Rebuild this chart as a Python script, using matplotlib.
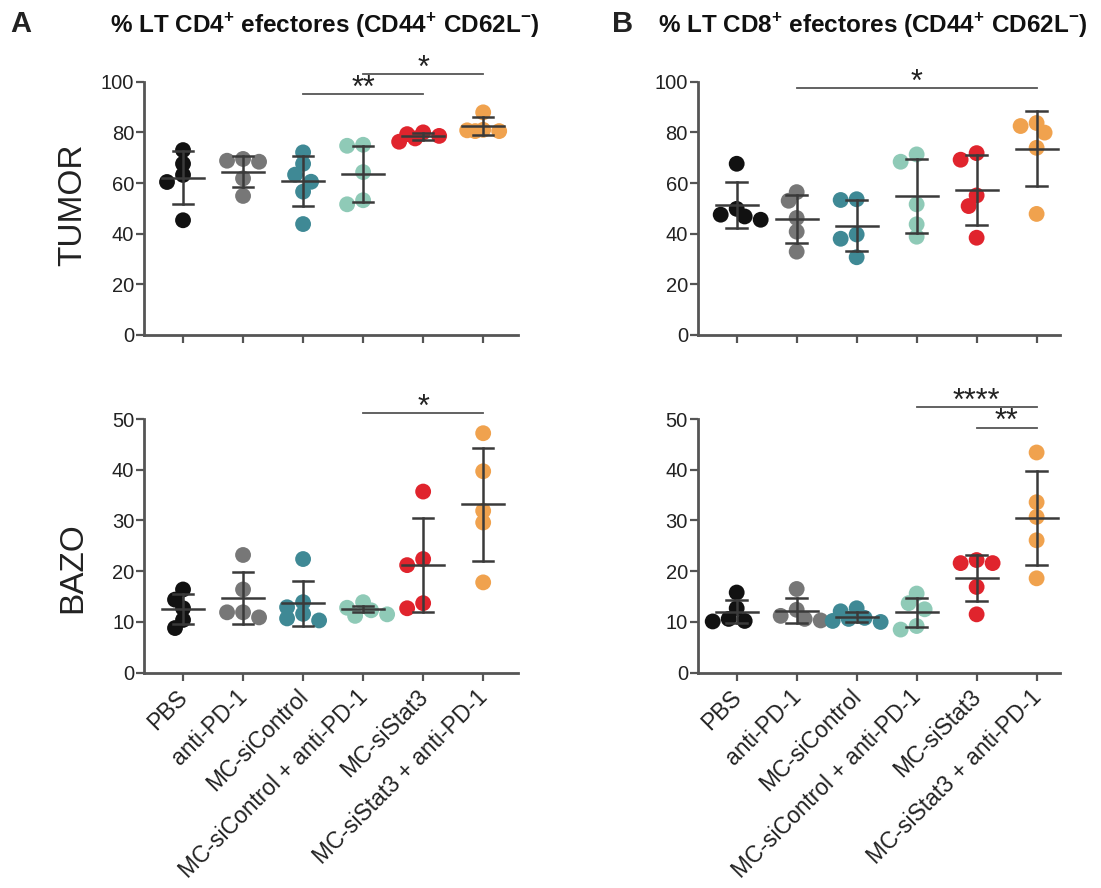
import numpy as np
import matplotlib
matplotlib.use('Agg')
import matplotlib.pyplot as plt
from matplotlib.transforms import ScaledTranslation

plt.rcParams['font.family'] = ['Liberation Sans', 'DejaVu Sans']
plt.rcParams['mathtext.fontset'] = 'custom'
plt.rcParams['mathtext.rm'] = 'Liberation Sans'
plt.rcParams['mathtext.bf'] = 'Liberation Sans:bold'

groups = ['PBS', 'anti-PD-1', 'MC-siControl', 'MC-siControl + anti-PD-1',
          'MC-siStat3', 'MC-siStat3 + anti-PD-1']
colors = ['#111111', '#777777', '#3f8995', '#8fcab7', '#e0242d', '#f0a24e']

# CD4 tumor
cd4_tumor = [[73.0, 67.6, 63.2, 60.4, 45.3],
             [69.5, 68.8, 68.4, 61.8, 54.9],
             [72.1, 67.6, 63.3, 60.5, 56.6, 43.8],
             [75.1, 74.7, 64.3, 53.2, 51.6],
             [80.0, 79.3, 78.6, 76.3, 77.6],
             [87.9, 81.0, 80.5, 80.5, 80.8]]
cd4_tumor_mean = [62.1, 64.5, 60.9, 63.6, 78.4, 82.4]
cd4_tumor_sd = [10.5, 6.1, 9.8, 11.2, 1.5, 3.6]
cd4_tumor_sig = [(2, 4, 95.0, '**'), (3, 5, 102.9, '*')]

# CD8 tumor
cd8_tumor = [[67.6, 49.8, 47.5, 46.8, 45.5],
             [56.4, 53.0, 46.2, 40.8, 32.9],
             [53.6, 53.3, 39.7, 38.0, 30.7],
             [71.3, 68.4, 51.6, 43.7, 38.8],
             [71.8, 69.2, 55.1, 50.9, 38.4],
             [83.7, 82.5, 79.9, 73.9, 47.8]]
cd8_tumor_mean = [51.4, 45.8, 43.2, 54.9, 57.2, 73.6]
cd8_tumor_sd = [9.2, 9.5, 9.9, 14.7, 13.7, 14.8]
cd8_tumor_sig = [(1, 5, 97.6, '*')]

# CD4 bazo
cd4_bazo = [[16.4, 14.4, 12.7, 10.4, 8.8],
            [23.2, 16.4, 11.9, 11.9, 10.9],
            [22.4, 13.9, 12.9, 11.6, 10.7, 10.3],
            [13.9, 12.8, 12.3, 11.5, 11.2],
            [35.7, 22.4, 21.2, 13.7, 12.7],
            [47.2, 39.7, 31.9, 29.6, 17.8]]
cd4_bazo_mean = [12.5, 14.7, 13.7, 12.5, 21.2, 33.2]
cd4_bazo_sd = [3.0, 5.1, 4.4, 0.6, 9.3, 11.1]
cd4_bazo_sig = [(3, 5, 51.1, '*')]

# CD8 bazo
cd8_bazo = [[15.8, 12.7, 10.6, 10.2, 10.1],
            [16.5, 12.4, 11.2, 10.6, 10.3],
            [12.7, 12.1, 10.8, 10.6, 10.2, 10.0],
            [15.6, 13.7, 12.5, 9.2, 8.5],
            [22.2, 21.6, 21.6, 16.9, 11.5],
            [43.4, 33.6, 30.7, 26.1, 18.6]]
cd8_bazo_mean = [12.0, 12.2, 11.0, 11.9, 18.7, 30.5]
cd8_bazo_sd = [2.3, 2.5, 1.0, 2.9, 4.5, 9.2]
cd8_bazo_sig = [(3, 5, 52.3, '****'), (4, 5, 48.3, '**')]

W, H = 1101, 888
fig = plt.figure(figsize=(W / 100, H / 100), dpi=100)


def px_axes(x0, y0, x1, y1):
    return fig.add_axes([x0 / W, 1 - y1 / H, (x1 - x0) / W, (y1 - y0) / H])


def swarm(vals, px_x, px_y, thr=11.0, step=8.0, nmax=3):
    # beeswarm in pixel space, dots may overlap a bit
    placed = []
    offs = np.zeros(len(vals))
    cands = [0.0]
    for k in range(1, nmax + 1):
        cands += [-k * step, k * step]
    for i in np.argsort(vals)[::-1]:
        y = vals[i] * px_y
        best, best_d = 0.0, -1
        for c in cands:
            dmin = min([np.hypot(c - px, y - py) for px, py in placed] or [1e9])
            if dmin >= thr:
                best = c
                break
            if dmin > best_d:
                best, best_d = c, dmin
        placed.append((best, y))
        offs[i] = best / px_x
    return offs


def panel(ax, data, means, sds, sigs, ymax, step, xmax, px_y):
    for i, vals in enumerate(data):
        vals = np.array(vals)
        offs = swarm(vals, 60.0, px_y)
        ax.scatter(i + offs, vals, s=130, color=colors[i], edgecolor='none', zorder=3, clip_on=False)
        m, s = means[i], sds[i]
        ax.plot([i - 0.35, i + 0.35], [m, m], color='#3a3a3a', lw=1.8, zorder=4)
        ax.plot([i, i], [m - s, m + s], color='#3a3a3a', lw=1.8, zorder=4)
        ax.plot([i - 0.17, i + 0.17], [m + s, m + s], color='#3a3a3a', lw=1.8, zorder=4)
        ax.plot([i - 0.17, i + 0.17], [m - s, m - s], color='#3a3a3a', lw=1.8, zorder=4)
    for g0, g1, y, txt in sigs:
        ax.plot([g0, g1], [y, y], color='#555555', lw=1.3, clip_on=False)
        ax.annotate(txt, xy=((g0 + g1) / 2, y), xytext=(0, -2), textcoords='offset points',
                    ha='center', va='baseline', fontsize=22, color='#222222', annotation_clip=False)
    ax.set_xlim(-0.65, xmax)
    ax.set_ylim(0, ymax)
    ax.set_yticks(np.arange(0, ymax + 1, step))
    ax.set_xticks(range(len(groups)))
    for sp in ['top', 'right']:
        ax.spines[sp].set_visible(False)
    for sp in ['left', 'bottom']:
        ax.spines[sp].set_color('#555555')
        ax.spines[sp].set_linewidth(2)
    ax.tick_params(axis='both', colors='#555555', width=1.6, length=6, labelsize=14.5,
                   labelcolor='#222222', pad=1)
    ax.patch.set_visible(False)


ax_tl = px_axes(144, 81.7, 518, 335)
ax_tr = px_axes(697.7, 81.7, 1060, 335)
ax_bl = px_axes(144, 419, 518, 672.7)
ax_br = px_axes(697.7, 419, 1060, 672.7)

panel(ax_tl, cd4_tumor, cd4_tumor_mean, cd4_tumor_sd, cd4_tumor_sig, 100, 20, 5.58, 2.533)
panel(ax_tr, cd8_tumor, cd8_tumor_mean, cd8_tumor_sd, cd8_tumor_sig, 100, 20, 5.39, 2.533)
panel(ax_bl, cd4_bazo, cd4_bazo_mean, cd4_bazo_sd, cd4_bazo_sig, 50, 10, 5.58, 5.074)
panel(ax_br, cd8_bazo, cd8_bazo_mean, cd8_bazo_sd, cd8_bazo_sig, 50, 10, 5.39, 5.074)

for ax in (ax_tl, ax_tr):
    ax.set_xticklabels([])
shift = ScaledTranslation(-0.07, -0.03, fig.dpi_scale_trans)
for ax in (ax_bl, ax_br):
    ax.set_xticklabels(groups, rotation=45, ha='right', rotation_mode='anchor', fontsize=16.5)
    for lab in ax.get_xticklabels():
        lab.set_transform(lab.get_transform() + shift)

fig.text(73 / W, 1 - 205 / H, 'TUMOR', rotation=90, ha='center', va='center', fontsize=24, color='#222222')
fig.text(73 / W, 1 - 568 / H, 'BAZO', rotation=90, ha='center', va='center', fontsize=24, color='#222222')

fig.text(10 / W, 1 - 24 / H, 'A', fontsize=21, fontweight='bold', va='center', color='#222222')
fig.text(612 / W, 1 - 24 / H, 'B', fontsize=21, fontweight='bold', va='center', color='#222222')
fig.text(325 / W, 1 - 26 / H, r'% LT CD4$^{\mathbf{+}}$ efectores (CD44$^{\mathbf{+}}$ CD62L$^{\mathbf{-}}$)',
         fontsize=17.5, fontweight='bold', ha='center', va='center', color='#111111')
fig.text(873 / W, 1 - 26 / H, r'% LT CD8$^{\mathbf{+}}$ efectores (CD44$^{\mathbf{+}}$ CD62L$^{\mathbf{-}}$)',
         fontsize=17.5, fontweight='bold', ha='center', va='center', color='#111111')

fig.savefig('out.png', dpi=100)
